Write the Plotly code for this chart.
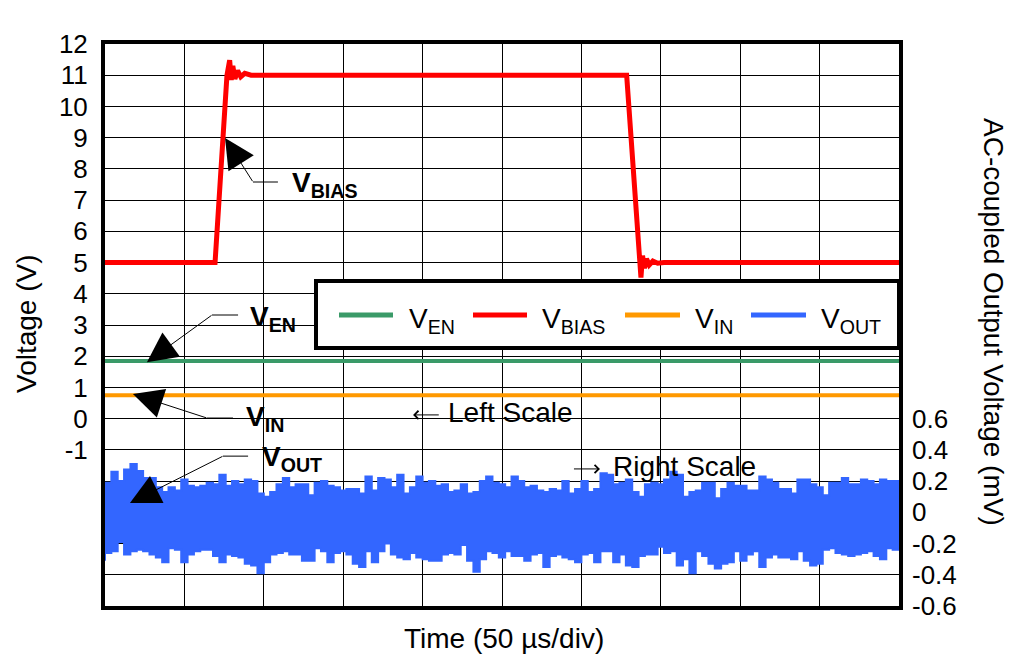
import plotly.graph_objects as go

FONT = "Liberation Sans, Arial, sans-serif"

# ---- data (time in µs, 50 µs/div) ----
VEN_T = [0, 500]
VEN_V = [1.85, 1.85]

VIN_T = [0, 500]
VIN_V = [0.75, 0.75]

VBIAS_T = [0, 69.3, 76.8, 78.5, 79.5, 80.5, 81.8, 83.5, 85.5, 88, 92,
           328.5, 337.5, 338.5, 339.7, 341, 342.7, 345, 348, 352, 500]
VBIAS_V = [5.0, 5.0, 11.0, 11.48, 10.85, 11.3, 10.88, 11.15, 10.95, 11.06, 11.0,
           11.0, 4.52, 5.22, 4.82, 5.12, 4.92, 5.05, 4.98, 5.0, 5.0]

# AC-coupled output noise envelope (mV), sampled every 4 µs
VOUT_HI = [
    0.19, 0.26, 0.20, 0.275, 0.31, 0.265, 0.22, 0.22, 0.16, 0.13, 0.16, 0.14, 0.21, 0.17, 0.16, 0.17,
    0.19, 0.18, 0.24, 0.17, 0.20, 0.18, 0.21, 0.20, 0.12, 0.10, 0.13, 0.18, 0.22, 0.16, 0.18,
    0.18, 0.11, 0.19, 0.20, 0.17, 0.16, 0.14, 0.15, 0.15, 0.12, 0.23, 0.14, 0.22, 0.21, 0.16, 0.24,
    0.12, 0.16, 0.23, 0.19, 0.20, 0.17, 0.18, 0.13, 0.14, 0.18, 0.12, 0.13, 0.20, 0.23, 0.19, 0.18,
    0.16, 0.23, 0.20, 0.16, 0.17, 0.14, 0.13, 0.15, 0.14, 0.20, 0.12, 0.15, 0.20, 0.13, 0.15, 0.25,
    0.24, 0.18, 0.19, 0.21, 0.13, 0.10, 0.18, 0.19, 0.18, 0.21, 0.26, 0.24, 0.10, 0.13, 0.14,
    0.19, 0.19, 0.09, 0.15, 0.19, 0.17, 0.17, 0.14, 0.14, 0.23, 0.21, 0.19, 0.15, 0.15, 0.12, 0.21,
    0.21, 0.18, 0.16, 0.11, 0.19, 0.19, 0.22, 0.18, 0.18, 0.21, 0.20, 0.18, 0.21, 0.20, 0.20, 0.19,
]
VOUT_LO = [
    -0.31, -0.26, -0.25, -0.19, -0.27, -0.25, -0.24, -0.25, -0.27, -0.29, -0.32, -0.23, -0.24, -0.32, -0.27, -0.25,
    -0.24, -0.24, -0.28, -0.32, -0.27, -0.28, -0.29, -0.33, -0.34, -0.39, -0.32, -0.27, -0.26, -0.25, -0.27,
    -0.27, -0.31, -0.31, -0.23, -0.25, -0.32, -0.26, -0.25, -0.27, -0.33, -0.35, -0.25, -0.32, -0.25, -0.20, -0.27,
    -0.29, -0.30, -0.26, -0.29, -0.30, -0.31, -0.31, -0.27, -0.26, -0.27, -0.21, -0.31, -0.38, -0.30, -0.25, -0.26,
    -0.29, -0.25, -0.28, -0.28, -0.31, -0.27, -0.26, -0.35, -0.28, -0.27, -0.29, -0.30, -0.32, -0.27, -0.26, -0.32,
    -0.25, -0.25, -0.32, -0.27, -0.34, -0.35, -0.28, -0.27, -0.27, -0.22, -0.26, -0.25, -0.34, -0.30, -0.39,
    -0.25, -0.28, -0.33, -0.36, -0.33, -0.32, -0.25, -0.31, -0.27, -0.25, -0.35, -0.29, -0.27, -0.29, -0.29, -0.30,
    -0.25, -0.31, -0.34, -0.33, -0.24, -0.23, -0.26, -0.27, -0.28, -0.27, -0.26, -0.25, -0.28, -0.30, -0.23, -0.24,
]
n = min(len(VOUT_HI), len(VOUT_LO))
VOUT_T = [4 * i for i in range(n)]

LEFT_TICKS = list(range(-1, 13))
LEFT_TICK_TEXT = [str(v) for v in LEFT_TICKS]
RIGHT_TICKS = [-0.6, -0.4, -0.2, 0, 0.2, 0.4, 0.6]
RIGHT_TICK_TEXT = ["-0.6", "-0.4", "-0.2", "0", "0.2", "0.4", "0.6"]

NAMES = ["V<sub>EN</sub>", "V<sub>BIAS</sub>", "V<sub>IN</sub>", "V<sub>OUT</sub>"]
COLORS = ["#3A9A68", "#FF0000", "#FF9900", "#3366FF"]

# plot area in pixels (for placing decorations)
PL, PR, PT, PB = 105, 899, 44, 606


def px_x(px):
    return (px - PL) / (PR - PL)


def px_y(py):
    return (PB - py) / (PB - PT)


fig = go.Figure()

fig.add_trace(go.Scatter(x=VEN_T, y=VEN_V, mode="lines",
                         line=dict(color=COLORS[0], width=4), name=NAMES[0]))
fig.add_trace(go.Scatter(x=VIN_T, y=VIN_V, mode="lines",
                         line=dict(color=COLORS[2], width=4), name=NAMES[2]))
fig.add_trace(go.Scatter(
    x=VOUT_T[:n] + VOUT_T[:n][::-1],
    y=VOUT_HI[:n] + VOUT_LO[:n][::-1],
    yaxis="y2", mode="lines", fill="toself", fillcolor=COLORS[3],
    line=dict(color=COLORS[3], width=2, shape="hv"), name=NAMES[3],
))
fig.add_trace(go.Scatter(x=VBIAS_T, y=VBIAS_V, mode="lines",
                         line=dict(color=COLORS[1], width=5), name=NAMES[1]))

shapes = []
annotations = []

# legend box drawn by hand
shapes.append(dict(type="rect", xref="paper", yref="paper",
                   x0=px_x(316), x1=1.0, y0=px_y(348), y1=px_y(281),
                   line=dict(color="black", width=4), fillcolor="white", layer="above"))
leg_line = [(339, 393), (473, 527), (625, 680), (751, 806)]
leg_text = [407, 540, 693, 819]
for name, color, (a, b), tx in zip(NAMES, COLORS, leg_line, leg_text):
    shapes.append(dict(type="line", xref="paper", yref="paper",
                       x0=px_x(a), x1=px_x(b), y0=px_y(315), y1=px_y(315),
                       line=dict(color=color, width=5), layer="above"))
    annotations.append(dict(text=name, xref="paper", yref="paper", x=px_x(tx), y=px_y(320),
                            xanchor="left", yanchor="middle", showarrow=False,
                            font=dict(size=28)))

# tiny anchor text so the arrow starts right at the kink
DOT = dict(text="&nbsp;", font=dict(size=1), borderpad=0)

# call-outs: (label, tip, kink, leader end, label pos)
callouts = [
    ("<b>V<sub>BIAS</sub></b>", (75.6, 8.99), (93.2, 7.58), 108.9, (116.5, 7.5)),
    ("<b>V<sub>EN</sub></b>", (26.4, 1.81), (67.4, 3.32), 83.8, (90.0, 3.2)),
    ("<b>V<sub>IN</sub></b>", (17.6, 0.79), (64.2, 0.02), 80.6, (87.5, 0.0)),
    ("<b>V<sub>OUT</sub></b>", (15.7, -2.70), (74.3, -1.20), 90.1, (97.5, -1.28)),
]
for label, tip, kink, end, pos in callouts:
    annotations.append(dict(x=tip[0], y=tip[1], ax=kink[0], ay=kink[1],
                            xref="x", yref="y", axref="x", ayref="y",
                            showarrow=True, arrowhead=2, arrowsize=6, arrowwidth=1,
                            arrowcolor="black", **DOT))
    shapes.append(dict(type="line", xref="x", yref="y", x0=kink[0], x1=end,
                       y0=kink[1], y1=kink[1], line=dict(color="black", width=1),
                       layer="above"))
    annotations.append(dict(text=label, x=pos[0], y=pos[1], xref="x", yref="y",
                            xanchor="left", yanchor="middle", showarrow=False,
                            font=dict(size=28)))

# scale pointers
annotations += [
    dict(x=194, y=0.12, ax=210.5, ay=0.12, xref="x", yref="y", axref="x", ayref="y",
         showarrow=True, arrowhead=4, arrowsize=1.6, arrowwidth=1, arrowcolor="black", **DOT),
    dict(text="Left Scale", x=215, y=0.21, xref="x", yref="y", xanchor="left",
         yanchor="middle", showarrow=False, font=dict(size=28)),
    dict(x=311.7, y=-1.61, ax=295.0, ay=-1.61, xref="x", yref="y", axref="x", ayref="y",
         showarrow=True, arrowhead=4, arrowsize=1.6, arrowwidth=1, arrowcolor="black", **DOT),
    dict(text="Right Scale", x=318.5, y=-1.52, xref="x", yref="y", xanchor="left",
         yanchor="middle", showarrow=False, font=dict(size=28)),
]

# axis titles
annotations += [
    dict(text="Voltage (V)", xref="paper", yref="paper", x=px_x(26), y=px_y(324),
         xanchor="center", yanchor="middle", textangle=-90, showarrow=False,
         font=dict(size=28)),
    dict(text="AC-coupled Output Voltage (mV)", xref="paper", yref="paper", x=px_x(994),
         y=px_y(322), xanchor="center", yanchor="middle", textangle=90, showarrow=False,
         font=dict(size=28)),
    dict(text="Time (50 µs/div)", xref="paper", yref="paper", x=px_x(504), y=px_y(638),
         xanchor="center", yanchor="middle", showarrow=False, font=dict(size=28)),
]

fig.update_layout(
    width=1022, height=668,
    margin=dict(l=PL, r=1022 - PR, t=PT, b=668 - PB),
    plot_bgcolor="white", paper_bgcolor="white",
    font=dict(family=FONT, size=26, color="black"),
    showlegend=False,
    xaxis=dict(range=[0, 500], dtick=50, showgrid=True, gridcolor="black", gridwidth=1,
               showline=True, linecolor="black", linewidth=4, mirror=True,
               showticklabels=False, ticks="", zeroline=False),
    yaxis=dict(range=[-6, 12], tickvals=LEFT_TICKS, ticktext=LEFT_TICK_TEXT,
               showgrid=True, gridcolor="black", gridwidth=1, showline=True,
               linecolor="black", linewidth=4, mirror=True, ticks="", zeroline=False,
               ticklabelstandoff=8,
               minor=dict(tickmode="linear", tick0=0, dtick=1, showgrid=True,
                          gridcolor="black", gridwidth=1, ticks="")),
    yaxis2=dict(range=[-0.6, 3.0], overlaying="y", side="right", tickvals=RIGHT_TICKS,
                ticktext=RIGHT_TICK_TEXT, showgrid=False, zeroline=False, ticks="",
                showline=False, ticklabelstandoff=12),
    shapes=shapes,
    annotations=annotations,
)

fig.write_html("out.html", config={"displayModeBar": False},
               post_script="document.body.style.margin='0px';")
